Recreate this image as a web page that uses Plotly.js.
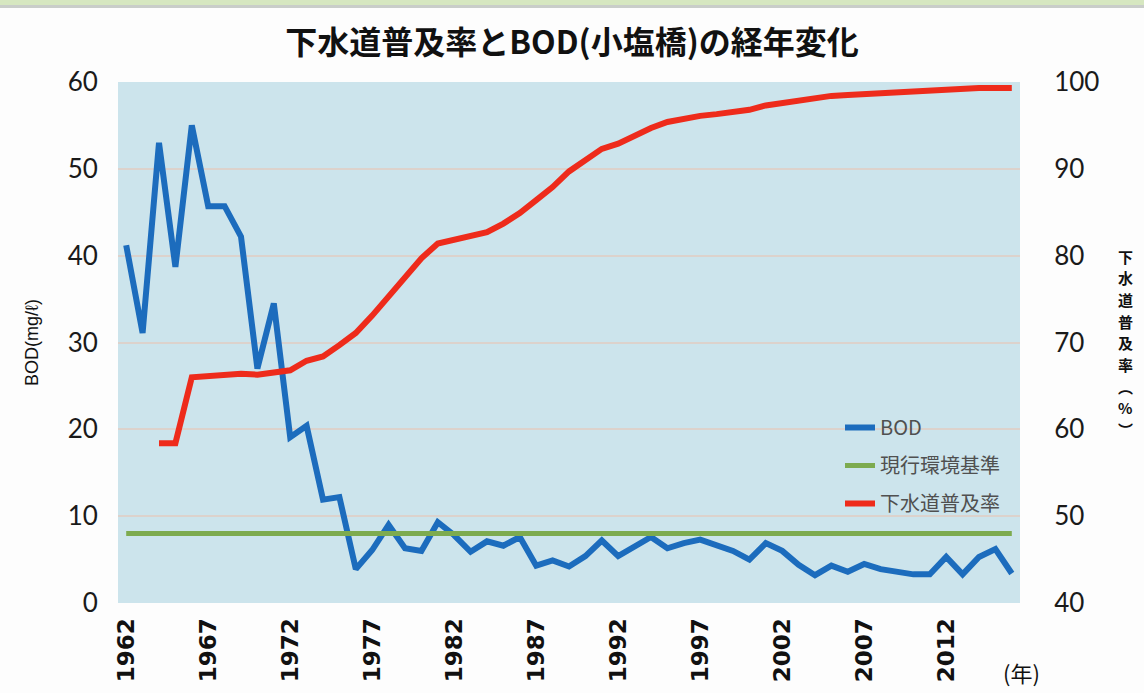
<!DOCTYPE html>
<html>
<head>
<meta charset="utf-8">
<script src="https://cdn.plot.ly/plotly-3.0.1.min.js"></script>
<style>
html,body{margin:0;padding:0;background:#fdfdfd;}
#chart{width:1144px;height:693px;}
</style>
</head>
<body>
<div id="chart"></div>
<script>
// BOD (mg/ℓ) at 小塩橋, 1962–2016
const bodYears = [1962,1963,1964,1965,1966,1967,1968,1969,1970,1971,1972,1973,1974,1975,1976,1977,1978,1979,1980,1981,1982,1983,1984,1985,1986,1987,1988,1989,1990,1991,1992,1993,1994,1995,1996,1997,1998,1999,2000,2001,2002,2003,2004,2005,2006,2007,2008,2009,2010,2011,2012,2013,2014,2015,2016];
const bodValues = [41.2,31.1,53.0,38.7,55.0,45.7,45.7,42.2,27.0,34.5,19.1,20.4,11.9,12.2,3.9,6.1,9.0,6.3,6.0,9.3,7.8,5.9,7.1,6.6,7.6,4.3,4.9,4.2,5.4,7.2,5.4,6.5,7.6,6.3,6.9,7.3,6.7,6.0,5.0,6.9,6.0,4.4,3.2,4.3,3.6,4.5,3.9,3.6,3.3,3.3,5.3,3.3,5.3,6.2,3.4];

// 現行環境基準 (mg/ℓ)
const standardYears = [1962, 2016];
const standardValues = [8, 8];

// 下水道普及率 (%), 1964–2016
const sewerYears = [1964,1965,1966,1967,1968,1969,1970,1971,1972,1973,1974,1975,1976,1977,1978,1979,1980,1981,1982,1983,1984,1985,1986,1987,1988,1989,1990,1991,1992,1993,1994,1995,1996,1997,1998,1999,2000,2001,2002,2003,2004,2005,2006,2007,2008,2009,2010,2011,2012,2013,2014,2015,2016];
const sewerValues = [58.4,58.4,66.0,66.1,66.2,66.4,66.3,66.6,66.8,67.9,68.4,69.7,71.1,73.1,75.3,77.4,79.7,81.4,81.8,82.2,82.7,83.7,84.9,86.4,87.9,89.7,91.0,92.3,92.9,93.8,94.7,95.4,95.8,96.1,96.3,96.6,96.8,97.3,97.6,97.9,98.2,98.4,98.5,98.6,98.8,98.9,99.0,99.0,99.1,99.2,99.3,99.3,99.3];

const tickYears = [1962,1967,1972,1977,1982,1987,1992,1997,2002,2007,2012];
const leftTicks = [0,10,20,30,40,50,60];
const rightTicks = [40,50,60,70,80,90,100];
const rightTitleChars = ['下','水','道','普','及','率','︵','%','︶'];

const traces = [
  {x: bodYears, y: bodValues, name: 'BOD', type: 'scatter', mode: 'lines',
   line: {color: '#1c6cbd', width: 6}, legendgroup: 'a', yaxis: 'y'},
  {x: standardYears, y: standardValues, name: '現行環境基準', type: 'scatter', mode: 'lines',
   line: {color: '#7dab4f', width: 5}, legendgroup: 'b', yaxis: 'y'},
  {x: sewerYears, y: sewerValues, name: '下水道普及率', type: 'scatter', mode: 'lines',
   line: {color: '#ee2b1b', width: 6}, legendgroup: 'c', yaxis: 'y2'}
];

const plotTop = 82, plotBottom = 603, plotH = 521, plotL = 118, plotW = 902;
const annotations = rightTitleChars.map((ch, i) => ({
  text: ch, xref: 'paper', yref: 'paper',
  x: (1125 - plotL) / plotW, y: (plotBottom - (256 + i * 21.7)) / plotH,
  xanchor: 'center', yanchor: 'middle', showarrow: false,
  font: {family: '"Noto Sans CJK JP", sans-serif', size: 15, color: '#111', weight: 'bold'}
}));
annotations.push({text: '(年)', xref: 'paper', yref: 'paper', x: (1021 - plotL) / plotW, y: (plotBottom - 672) / plotH,
  xanchor: 'center', yanchor: 'middle', showarrow: false,
  font: {family: '"Noto Sans CJK JP", sans-serif', size: 22, color: '#111'}});

const layout = {
  width: 1144, height: 693,
  paper_bgcolor: '#fdfdfd',
  plot_bgcolor: '#cce4ec',
  margin: {l: 118, r: 124, t: 82, b: 90},
  showlegend: true,
  title: {
    text: '下水道普及率とBOD(小塩橋)の経年変化',
    font: {family: '"Noto Sans CJK JP", sans-serif', size: 32, color: '#111', weight: 'bold'},
    x: 0.5, xanchor: 'center', y: 1 - 43/693, yanchor: 'middle'
  },
  xaxis: {
    range: [1961.5, 2016.5],
    tickvals: tickYears,
    ticktext: tickYears.map(String),
    tickangle: -90,
    tickfont: {family: '"DejaVu Sans", sans-serif', size: 23, color: '#111', weight: 'bold'},
    showgrid: false, zeroline: false, showline: false,
    ticks: 'outside', ticklen: 5, tickcolor: 'rgba(0,0,0,0)'
  },
  yaxis: {
    range: [0, 60],
    tickvals: leftTicks,
    tickfont: {family: 'Lato, "Open Sans", sans-serif', size: 26, color: '#1a1a1a'},
    showgrid: true, gridcolor: '#dcd2cc', gridwidth: 2,
    zeroline: false, showline: false,
    ticks: 'outside', ticklen: 14, tickcolor: 'rgba(0,0,0,0)',
    title: {text: 'BOD(mg/ℓ)', font: {family: '"Liberation Sans", Arial, sans-serif', size: 18, color: '#111'}, standoff: 24}
  },
  yaxis2: {
    range: [40, 100],
    tickvals: rightTicks,
    overlaying: 'y', side: 'right',
    tickfont: {family: 'Lato, "Open Sans", sans-serif', size: 26, color: '#1a1a1a'},
    showgrid: false, zeroline: false, showline: false,
    ticks: 'outside', ticklen: 28, tickcolor: 'rgba(0,0,0,0)'
  },
  legend: {
    x: (840 - plotL) / plotW, y: (plotBottom - 408) / plotH, xanchor: 'left', yanchor: 'top',
    bgcolor: 'rgba(0,0,0,0)',
    font: {family: '"Noto Sans CJK JP", sans-serif', size: 20, color: '#505050'},
    tracegroupgap: 9,
    traceorder: 'grouped'
  },
  shapes: [
    {type: 'rect', xref: 'paper', yref: 'paper',
     x0: -plotL / plotW, x1: (1144 - plotL) / plotW, y0: (plotBottom - 5) / plotH, y1: plotBottom / plotH + 0.01,
     fillcolor: '#d6e7c0', line: {width: 0}},
    {type: 'rect', xref: 'paper', yref: 'paper',
     x0: -plotL / plotW, x1: (1144 - plotL) / plotW, y0: (plotBottom - 8) / plotH, y1: (plotBottom - 5) / plotH,
     fillcolor: '#c9cdc9', line: {width: 0}}
  ],
  annotations: annotations
};

Plotly.newPlot('chart', traces, layout, {displayModeBar: false, staticPlot: true});
</script>
</body>
</html>
